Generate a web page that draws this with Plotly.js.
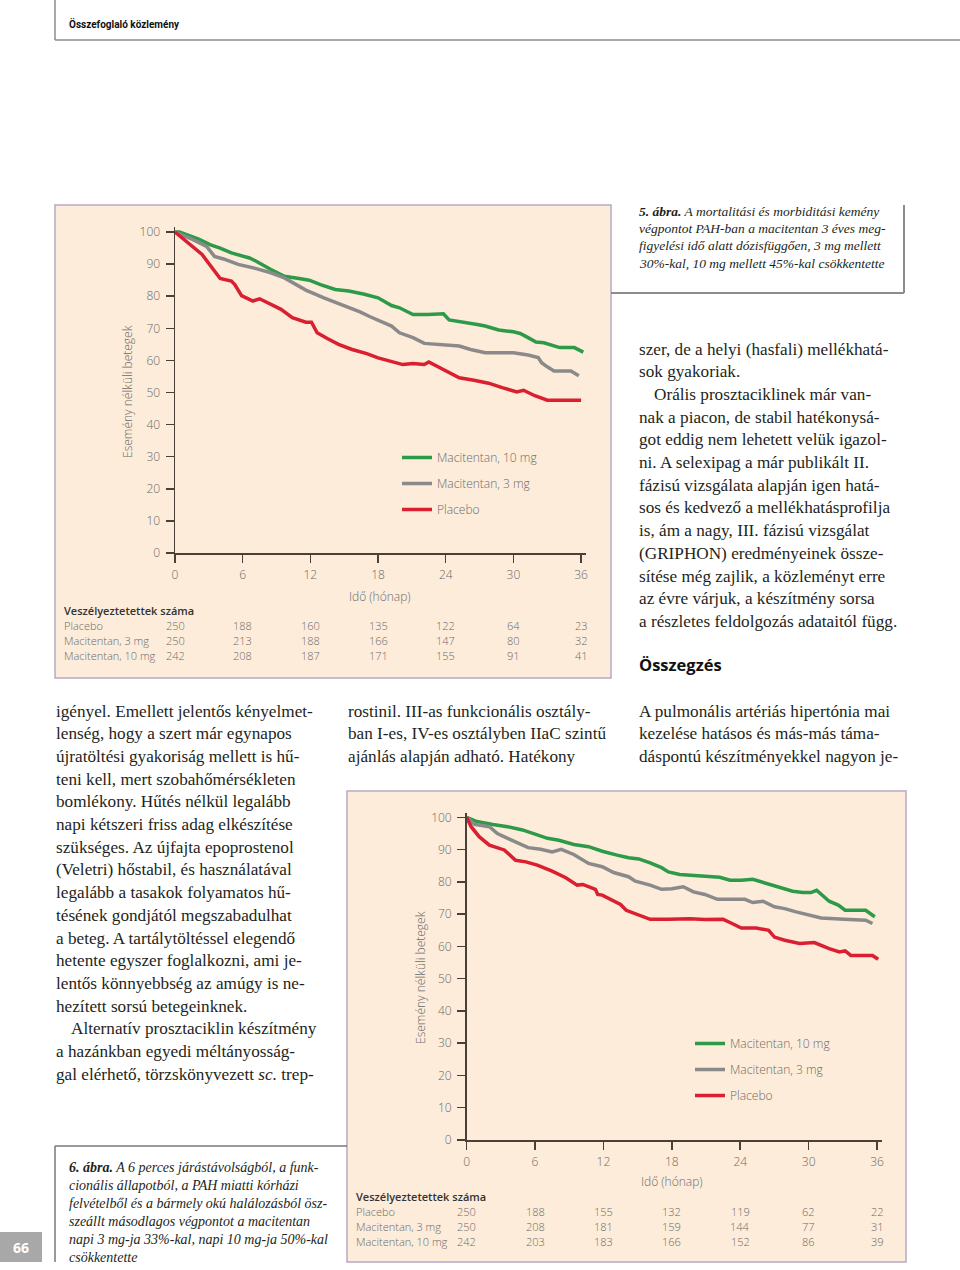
<!DOCTYPE html>
<html>
<head>
<meta charset="utf-8">
<script src="https://cdn.plot.ly/plotly-3.0.1.min.js"></script>
<style>html,body{margin:0;padding:0;background:#fff;}#chart{width:960px;height:1270px;}</style>
</head>
<body>
<div id="chart"></div>
<script>
// ---------- DATA ----------
const seriesNames = ["Macitentan, 10 mg", "Macitentan, 3 mg", "Placebo"];
const riskMonths = [0, 6, 12, 18, 24, 30, 36];
const riskRowLabels = ["Placebo", "Macitentan, 3 mg", "Macitentan, 10 mg"];

// Figure 5 (top)
const f5Month10 = [0,0.4,2.1,3.1,4.0,5.0,6.6,7.2,8.5,9.7,11.0,11.9,12.9,14.2,15.4,16.7,18.0,19.2,19.9,21.1,22.4,23.8,24.3,25.6,26.8,27.5,28.7,30.0,30.6,31.3,32.0,32.7,33.5,34.1,35.4,36.2];
const f5Surv10  = [100,100,97.8,96.1,95.0,93.5,91.9,90.9,88.3,86.2,85.5,85.0,83.6,82.1,81.6,80.7,79.5,77.1,76.4,74.3,74.3,74.5,72.6,72.0,71.2,70.7,69.5,68.9,68.4,67.1,65.7,65.5,64.5,64.0,64.0,62.6];
const f5Month3 = [0,1.5,2.8,3.5,4.3,5.6,7.2,8.5,9.7,10.4,11.6,13.2,14.8,16.4,17.3,18.0,19.2,19.9,21.1,22.1,23.7,25.2,26.2,27.5,30.0,31.3,32.2,32.5,33.0,33.6,35.1,35.8];
const f5Surv3  = [100,97.8,95.5,92.4,91.6,89.9,88.6,87.3,85.7,84.2,81.9,79.5,77.4,75.1,73.6,72.5,70.7,68.6,67.1,65.3,65.0,64.5,63.4,62.4,62.4,61.7,60.9,59.3,58.0,56.7,56.7,55.2];
const f5MonthPbo = [0,1.2,2.4,3.4,4.0,5.0,5.3,5.9,6.9,7.5,8.5,9.4,10.4,11.6,12.1,12.6,13.5,14.5,15.7,17.0,18.0,19.2,20.2,21.1,22.1,22.5,23.7,25.2,26.5,27.8,29.0,30.3,30.9,31.9,33.0,36.0];
const f5SurvPbo  = [100,96.6,93.0,88.3,85.5,84.7,83.6,80.2,78.5,79.2,77.4,75.9,73.3,71.9,71.9,68.6,66.8,65.0,63.4,62.1,60.8,59.6,58.7,59.0,58.7,59.5,57.2,54.6,53.8,52.9,51.5,50.2,50.7,49.0,47.6,47.6];
const f5RiskPbo = [250,188,160,135,122,64,23];
const f5Risk3   = [250,213,188,166,147,80,32];
const f5Risk10  = [242,208,187,171,155,91,41];

// Figure 6 (bottom)
const f6Month10 = [0,0.9,2.3,3.6,4.9,6.2,7.1,8.1,9.4,10.7,11.9,13.2,14.2,15.1,16.1,17.1,17.7,18.7,19.6,20.9,22.2,23.1,24.1,25.1,26.0,27.3,28.6,29.5,30.2,30.7,31.1,31.8,32.6,33.2,35.0,35.8];
const f6Surv10  = [100,98.7,97.8,97.1,96.1,94.5,93.5,92.9,91.6,90.9,89.5,88.3,87.5,87.1,85.9,84.4,83.1,82.3,82.1,81.6,81.4,80.5,80.5,80.8,79.8,78.3,77.1,76.7,76.7,77.4,76.1,74.0,72.8,71.2,71.2,69.2];
const f6Month3 = [0,0.7,2.0,2.7,3.6,4.6,5.4,6.5,7.5,8.3,9.4,10.7,11.9,12.9,14.2,14.8,16.1,17.1,18.0,19.0,19.9,20.9,22.0,23.5,24.4,25.1,26.0,27.0,27.9,28.9,30.2,31.1,33.1,35.0,35.6];
const f6Surv3  = [100,97.8,97.1,95.0,93.5,91.9,90.6,90.1,89.3,90.1,88.5,85.7,84.7,82.9,81.6,80.2,79.0,77.7,77.9,78.5,76.9,76.1,74.6,74.6,74.6,73.6,74.0,72.3,71.7,70.7,69.7,68.8,68.4,68.1,67.1];
const f6MonthPbo = [0,0.4,1.1,2.0,3.3,4.3,5.2,6.2,7.5,8.7,9.7,10.2,11.3,11.5,11.9,13.5,14.0,15.1,16.1,17.7,19.6,20.9,22.5,23.1,24.1,25.4,26.5,27.0,27.9,29.2,30.5,31.8,32.7,33.2,33.7,35.6,36.1];
const f6SurvPbo  = [100,97.1,94.0,91.4,89.9,86.7,86.2,85.2,83.3,81.3,79.0,79.2,77.7,76.1,75.9,73.0,71.2,69.7,68.4,68.4,68.6,68.3,68.4,67.4,65.7,65.7,65.0,62.9,61.9,60.9,61.2,59.3,58.3,58.6,57.2,57.2,56.0];
const f6RiskPbo = [250,188,155,132,119,62,22];
const f6Risk3   = [250,208,181,159,144,77,31];
const f6Risk10  = [242,203,183,166,152,86,39];

// Texts
const headerText = "Összefoglaló közlemény";
const yTitle = "Esemény nélküli betegek";
const xTitle = "Idő (hónap)";
const riskTitle = "Veszélyeztetettek száma";
const caption5 = [
  "<b>5. ábra.</b> A mortalitási és morbiditási kemény",
  "végpontot PAH-ban a macitentan 3 éves meg-",
  "figyelési idő alatt dózisfüggően, 3 mg mellett",
  "30%-kal, 10 mg mellett 45%-kal csökkentette"
];
const caption6 = [
  "<b>6. ábra.</b> A 6 perces járástávolságból, a funk-",
  "cionális állapotból, a PAH miatti kórházi",
  "felvételből és a bármely okú halálozásból ösz-",
  "szeállt másodlagos végpontot a macitentan",
  "napi 3 mg-ja 33%-kal, napi 10 mg-ja 50%-kal",
  "csökkentette"
];
const rightTopText = [
  "szer, de a helyi (hasfali) mellékhatá-",
  "sok gyakoriak.",
  "Orális prosztaciklinek már van-",
  "nak a piacon, de stabil hatékonysá-",
  "got eddig nem lehetett velük igazol-",
  "ni. A selexipag a már publikált II.",
  "fázisú vizsgálata alapján igen hatá-",
  "sos és kedvező a mellékhatásprofilja",
  "is, ám a nagy, III. fázisú vizsgálat",
  "(GRIPHON) eredményeinek össze-",
  "sítése még zajlik, a közleményt erre",
  "az évre várjuk, a készítmény sorsa",
  "a részletes feldolgozás adataitól függ."
];
const leftText = [
  "igényel. Emellett jelentős kényelmet-",
  "lenség, hogy a szert már egynapos",
  "újratöltési gyakoriság mellett is hű-",
  "teni kell, mert szobahőmérsékleten",
  "bomlékony. Hűtés nélkül legalább",
  "napi kétszeri friss adag elkészítése",
  "szükséges. Az újfajta epoprostenol",
  "(Veletri) hőstabil, és használatával",
  "legalább a tasakok folyamatos hű-",
  "tésének gondjától megszabadulhat",
  "a beteg. A tartálytöltéssel elegendő",
  "hetente egyszer foglalkozni, ami je-",
  "lentős könnyebbség az amúgy is ne-",
  "hezített sorsú betegeinknek.",
  "Alternatív prosztaciklin készítmény",
  "a hazánkban egyedi méltányosság-",
  "gal elérhető, törzskönyvezett <i>sc.</i> trep-"
];
const midText = [
  "rostinil. III-as funkcionális osztály-",
  "ban I-es, IV-es osztályben IIaC szintű",
  "ajánlás alapján adható. Hatékony"
];
const rightBottomText = [
  "A pulmonális artériás hipertónia mai",
  "kezelése hatásos és más-más táma-",
  "dáspontú készítményekkel nagyon je-"
];
const summaryTitle = "Összegzés";
const pageNumber = "66";

// ---------- STYLE / GEOMETRY ----------
const W = 960, H = 1270;
const px = x => x / W;
const py = y => 1 - y / H;
const colors = ["#2c9a48", "#8a8a8a", "#d91f30"];
const panelFill = "#fdecd9";
const panelLine = "#b6a9c8";
const axisCol = "#4b4038";
const tickCol = "#6b6b6b";
const sansLight = "Open Sans, Noto Sans, sans-serif";
const serif = "Liberation Serif, DejaVu Serif, serif";

const data = [];
function addCurves(xs, ys, xa, ya, lg) {
  for (let i = 0; i < 3; i++) {
    data.push({
      type: "scatter", mode: "lines", x: xs[i], y: ys[i], xaxis: xa, yaxis: ya,
      name: seriesNames[i], legend: lg, legendgroup: lg + i,
      line: {color: colors[i], width: 3.5}, hoverinfo: "skip"
    });
  }
}
addCurves([f5Month10, f5Month3, f5MonthPbo], [f5Surv10, f5Surv3, f5SurvPbo], "x", "y", "legend");
addCurves([f6Month10, f6Month3, f6MonthPbo], [f6Surv10, f6Surv3, f6SurvPbo], "x2", "y2", "legend2");

function axisX(domPx, anchor) {
  return {domain: [px(domPx[0]), px(domPx[1])], range: [0, 36.4], anchor: anchor,
    tickvals: riskMonths, ticks: "outside", ticklen: 8, tickwidth: 1.5, tickcolor: axisCol,
    showline: true, linecolor: axisCol, linewidth: 1.5, showgrid: false, zeroline: false,
    ticklabelstandoff: 2,
    tickfont: {family: sansLight, size: 12, color: tickCol, weight: 300}, fixedrange: true};
}
function axisY(domPx, anchor) {
  return {domain: [py(domPx[1]), py(domPx[0])], range: [0, 101.5], anchor: anchor,
    tickvals: [0,10,20,30,40,50,60,70,80,90,100], ticks: "outside", ticklen: 8, tickwidth: 1.5, tickcolor: axisCol,
    showline: true, linecolor: axisCol, linewidth: 1.5, showgrid: false, zeroline: false,
    ticklabelstandoff: 3,
    tickfont: {family: sansLight, size: 12, color: tickCol, weight: 300}, fixedrange: true};
}

const shapes = [];
function line(x0, y0, x1, y1, color, w) {
  shapes.push({type: "line", xref: "paper", yref: "paper", x0: px(x0), y0: py(y0), x1: px(x1), y1: py(y1),
    line: {color: color, width: w}, layer: "below"});
}
function rect(x0, y0, x1, y1, fill, lc, w) {
  shapes.push({type: "rect", xref: "paper", yref: "paper", x0: px(x0), y0: py(y0), x1: px(x1), y1: py(y1),
    fillcolor: fill, line: {color: lc, width: w}, layer: "below"});
}
// header
line(55, 0, 55, 40, "#8c8c8c", 1.5);
line(55, 40, 960, 40, "#8c8c8c", 1.5);
// panels
rect(55, 205, 611, 678, panelFill, panelLine, 1.5);
rect(347, 791, 906, 1262, panelFill, panelLine, 1.5);
// caption 5 frame
line(904, 205, 904, 293, "#8c8c8c", 2);
line(611, 293, 904, 293, "#8c8c8c", 2);
// caption 6 frame
line(55, 1146, 347, 1146, "#777", 1.5);
line(55, 1146, 55, 1262, "#777", 1.5);
// page number box
rect(0, 1232, 42, 1262, "#a8a8a8", "rgba(0,0,0,0)", 0);

const ann = [];
function txt(x, y, text, font, extra) {
  ann.push(Object.assign({xref: "paper", yref: "paper", x: px(x), y: py(y), text: text,
    showarrow: false, xanchor: "left", yanchor: "middle", font: font, borderpad: 0}, extra || {}));
}
const bodyFont = {family: serif, size: 17.2, color: "#231f20"};
const capFont = {family: serif, size: 13.5, color: "#231f20", style: "italic"};
const capFont6 = {family: serif, size: 14, color: "#231f20", style: "italic"};

txt(68, 23, "<b>" + headerText + "</b>", {family: "Liberation Sans Narrow, Roboto, sans-serif", size: 10, color: "#111"});

caption5.forEach((t, i) => txt(638, 211 + i * 17.4, t, capFont));
caption6.forEach((t, i) => txt(68, 1167 + i * 18, t, capFont6));
rightTopText.forEach((t, i) => txt(i === 2 ? 653 : 638, 349 + i * 22.7, t, bodyFont));
txt(638, 664, "<b>" + summaryTitle + "</b>", {family: sansLight, size: 16.5, color: "#111"});
leftText.forEach((t, i) => txt(i === 14 ? 70 : 55, 711 + i * 22.7, t, bodyFont));
midText.forEach((t, i) => txt(347, 711 + i * 22.7, t, bodyFont));
rightBottomText.forEach((t, i) => txt(638, 711 + i * 22.7, t, bodyFont));
txt(21, 1247, "<b>" + pageNumber + "</b>", {family: sansLight, size: 14, color: "#fff"}, {xanchor: "center"});

// chart texts
const axFont = {family: sansLight, size: 12, color: tickCol, weight: 300};
const smallFont = {family: sansLight, size: 11, color: tickCol, weight: 300};
function chartTexts(xa, yTitleX, yTitleY, xTitleX, xTitleY, tableX, tableY, risks) {
  txt(yTitleX, yTitleY, yTitle, axFont, {textangle: -90, xanchor: "center"});
  txt(xTitleX, xTitleY, xTitle, axFont, {xanchor: "center"});
  txt(tableX, tableY, riskTitle, {family: sansLight, size: 11, color: "#333", weight: 600});
  riskRowLabels.forEach((lab, r) => {
    txt(tableX, tableY + 15 * (r + 1), lab, smallFont);
    risks[r].forEach((v, k) => {
      ann.push({xref: xa, yref: "paper", x: riskMonths[k], y: py(tableY + 15 * (r + 1)), text: String(v),
        showarrow: false, xanchor: "center", yanchor: "middle", font: smallFont, borderpad: 0});
    });
  });
}
chartTexts("x", 128, 392, 380, 596, 63, 610, [f5RiskPbo, f5Risk3, f5Risk10]);
chartTexts("x2", 420, 978, 672, 1181, 355, 1196, [f6RiskPbo, f6Risk3, f6Risk10]);

const legFont = {family: sansLight, size: 12, color: tickCol, weight: 300};
const layout = {
  width: W, height: H, margin: {l: 0, r: 0, t: 0, b: 0},
  paper_bgcolor: "#fff", plot_bgcolor: "rgba(0,0,0,0)",
  showlegend: true,
  xaxis: axisX([175, 585.6], "y"),
  yaxis: axisY([227.2, 553], "x"),
  xaxis2: axisX([466.6, 881.6], "y2"),
  yaxis2: axisY([812.5, 1140], "x2"),
  legend: {x: px(397), y: py(443), xanchor: "left", yanchor: "top", bgcolor: "rgba(0,0,0,0)",
    font: legFont, traceorder: "grouped", tracegroupgap: 7, itemclick: false},
  legend2: {x: px(690), y: py(1029), xanchor: "left", yanchor: "top", bgcolor: "rgba(0,0,0,0)",
    font: legFont, traceorder: "grouped", tracegroupgap: 7, itemclick: false},
  shapes: shapes, annotations: ann
};
Plotly.newPlot("chart", data, layout, {displayModeBar: false, staticPlot: true});
</script>
</body>
</html>
